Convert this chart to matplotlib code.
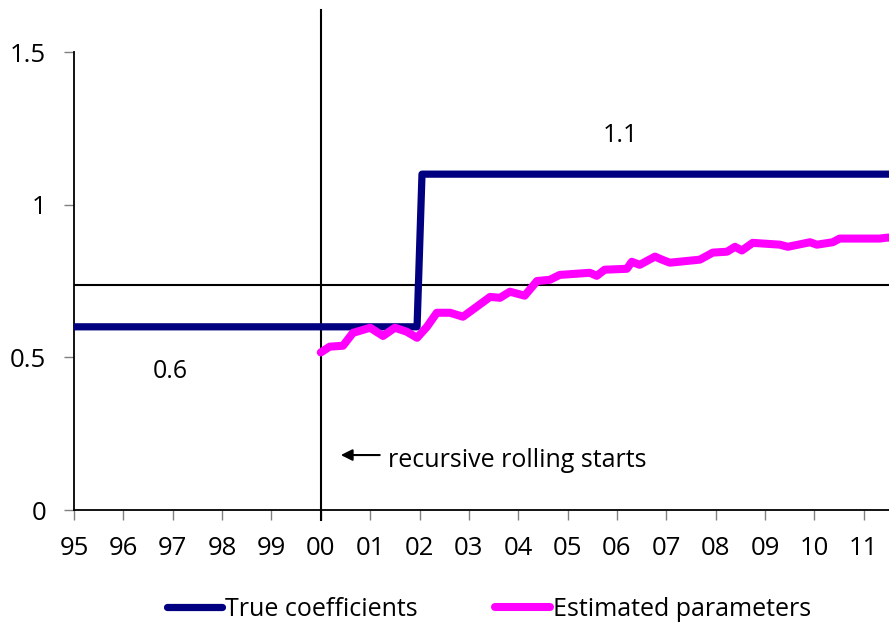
import numpy as np
import matplotlib.pyplot as plt

# === Data ===
true_x = [1995, 2001.95, 2002.05, 2011.6]
true_y = [0.6, 0.6, 1.1, 1.1]

est_x = [2000.0, 2000.18, 2000.45, 2000.65, 2001.0, 2001.26, 2001.5, 2001.74, 2001.95,
         2002.15, 2002.35, 2002.62, 2002.88, 2003.16, 2003.43, 2003.63, 2003.83, 2004.13,
         2004.38, 2004.64, 2004.84, 2005.19, 2005.45, 2005.59, 2005.75, 2006.2, 2006.3,
         2006.46, 2006.77, 2006.91, 2007.07, 2007.68, 2007.94, 2008.23, 2008.39, 2008.53,
         2008.75, 2009.3, 2009.46, 2009.91, 2010.05, 2010.37, 2010.51, 2011.32, 2011.47, 2011.6]
est_y = [0.516, 0.535, 0.538, 0.58, 0.597, 0.57, 0.597, 0.584, 0.564,
         0.60, 0.646, 0.646, 0.633, 0.666, 0.698, 0.695, 0.715, 0.702,
         0.75, 0.754, 0.77, 0.774, 0.777, 0.767, 0.787, 0.79, 0.813,
         0.803, 0.83, 0.82, 0.81, 0.82, 0.843, 0.846, 0.862, 0.85,
         0.875, 0.869, 0.862, 0.877, 0.869, 0.877, 0.889, 0.889, 0.892, 0.892]

x_ticks = list(range(1995, 2012))
x_labels = [f"{t % 100:02d}" for t in x_ticks]
y_ticks = [0, 0.5, 1, 1.5]
y_labels = ["0", "0.5", "1", "1.5"]

rolling_start = 2000
threshold = 0.738

plt.rcParams['font.family'] = ['Open Sans', 'DejaVu Sans']

fig = plt.figure(figsize=(8.89, 6.26), dpi=100)
ax = fig.add_axes([0.0832, 0.1853, 0.9168, 0.7316])

ax.plot(true_x, true_y, color='#000080', lw=5.2, solid_capstyle='round',
        solid_joinstyle='round', label='True coefficients', zorder=3)
ax.plot(est_x, est_y, color='#FF00FF', lw=5.8, solid_capstyle='round',
        solid_joinstyle='round', label='Estimated parameters', zorder=4)

# reference lines
ax.axhline(threshold, color='black', lw=1.5, zorder=2)
ax.plot([rolling_start, rolling_start], [-0.033, 1.638], color='black', lw=1.5,
        clip_on=False, zorder=2)

# annotations
ax.text(1996.95, 0.455, "0.6", fontsize=18, ha='center', va='center')
ax.text(2006.06, 1.225, "1.1", fontsize=18, ha='center', va='center')
ax.annotate("", xy=(2000.35, 0.18), xytext=(2001.25, 0.18),
            arrowprops=dict(arrowstyle='-|>', color='black', lw=1.5,
                            mutation_scale=17))
ax.text(2001.37, 0.163, "recursive rolling starts", fontsize=18, ha='left', va='center')

ax.set_xlim(1995, 2011.51)
ax.set_ylim(0, 1.5)
ax.set_xticks(x_ticks)
ax.set_xticklabels(x_labels)
ax.set_yticks(y_ticks)
ax.set_yticklabels(y_labels)
ax.tick_params(axis='both', direction='out', length=7, width=1, color='gray',
               labelsize=18.5)
ax.tick_params(axis='y', pad=13)
ax.tick_params(axis='x', pad=12)

for s in ['top', 'right']:
    ax.spines[s].set_visible(False)
for s in ['left', 'bottom']:
    ax.spines[s].set_linewidth(1.3)
    ax.spines[s].set_color('black')

fig.legend(loc='center', bbox_to_anchor=(489 / 889, 1 - 609 / 626), ncol=2,
           frameon=False, fontsize=18, handlelength=2.2, handletextpad=0.12,
           columnspacing=3.1)

fig.savefig('out.png', dpi=100)
